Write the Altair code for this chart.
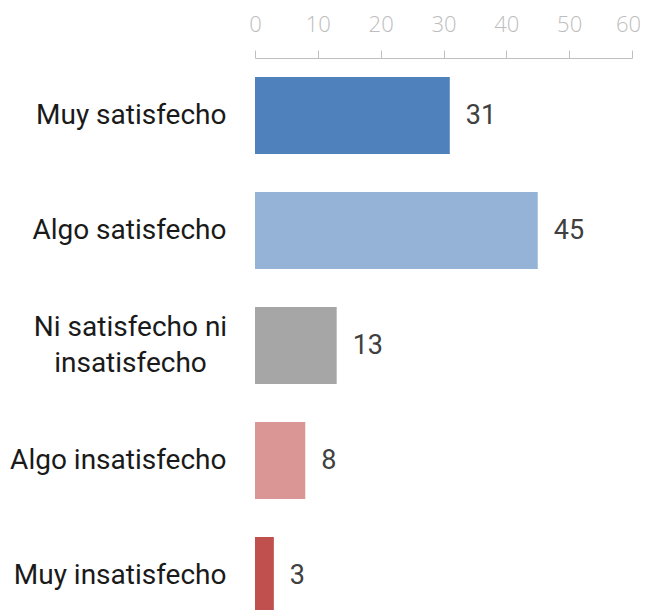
import altair as alt
import pandas as pd

categories = ["Muy satisfecho", "Algo satisfecho", "Ni satisfecho ni insatisfecho",
              "Algo insatisfecho", "Muy insatisfecho"]
values = [31, 45, 13, 8, 3]
colors = ["#4F81BD", "#95B3D7", "#A6A6A6", "#D99694", "#C0504D"]
x_ticks = [0, 10, 20, 30, 40, 50, 60]

df = pd.DataFrame({"cat": categories, "val": values})

two_line = "datum.value == 'Ni satisfecho ni insatisfecho'"
y = alt.Y("cat:N", sort=categories, title=None,
          scale=alt.Scale(paddingInner=0.33, paddingOuter=0.165),
          axis=alt.Axis(domain=False, ticks=False, labelFont="Roboto", labelFontSize=28,
                        labelColor="#1a1a1a", labelLimit=300,
                        labelLineHeight=36,
                        labelAlign={"expr": two_line + " ? 'center' : 'right'"},
                        labelPadding={"expr": two_line + " ? 125 : 29"},
                        labelOffset={"expr": two_line + " ? -18 : 0"},
                        labelExpr=two_line + " ? ['Ni satisfecho ni', 'insatisfecho'] : datum.label"))
x = alt.X("val:Q", title=None,
          scale=alt.Scale(domain=[0, 60]),
          axis=alt.Axis(orient="top", values=x_ticks, grid=False, labelFlush=False,
                        domainColor="#BFBFBF", tickColor="#BFBFBF", tickSize=8,
                        labelColor="#BDBDBD", labelFont="Open Sans", labelFontSize=22,
                        labelFontWeight=300, labelPadding=14,
                        labelOffset={"expr": "datum.value == 60 ? -4 : 0"}))

bars = alt.Chart(df).mark_bar().encode(
    x=x, y=y,
    color=alt.Color("cat:N", scale=alt.Scale(domain=categories, range=colors), legend=None),
)
text = alt.Chart(df).mark_text(align="left", dx=16, font="Roboto", fontSize=27,
                               color="#404040").encode(
    x="val:Q", y=alt.Y("cat:N", sort=categories), text="val:Q")

chart = (bars + text).properties(
    width=377, height=575,
    autosize=alt.AutoSizeParams(type="none"),
    padding={"left": 247, "top": 50, "right": 8, "bottom": 0},
).configure_view(stroke=None)

chart.save("out.html", embed_options={"renderer": "svg", "actions": False})
